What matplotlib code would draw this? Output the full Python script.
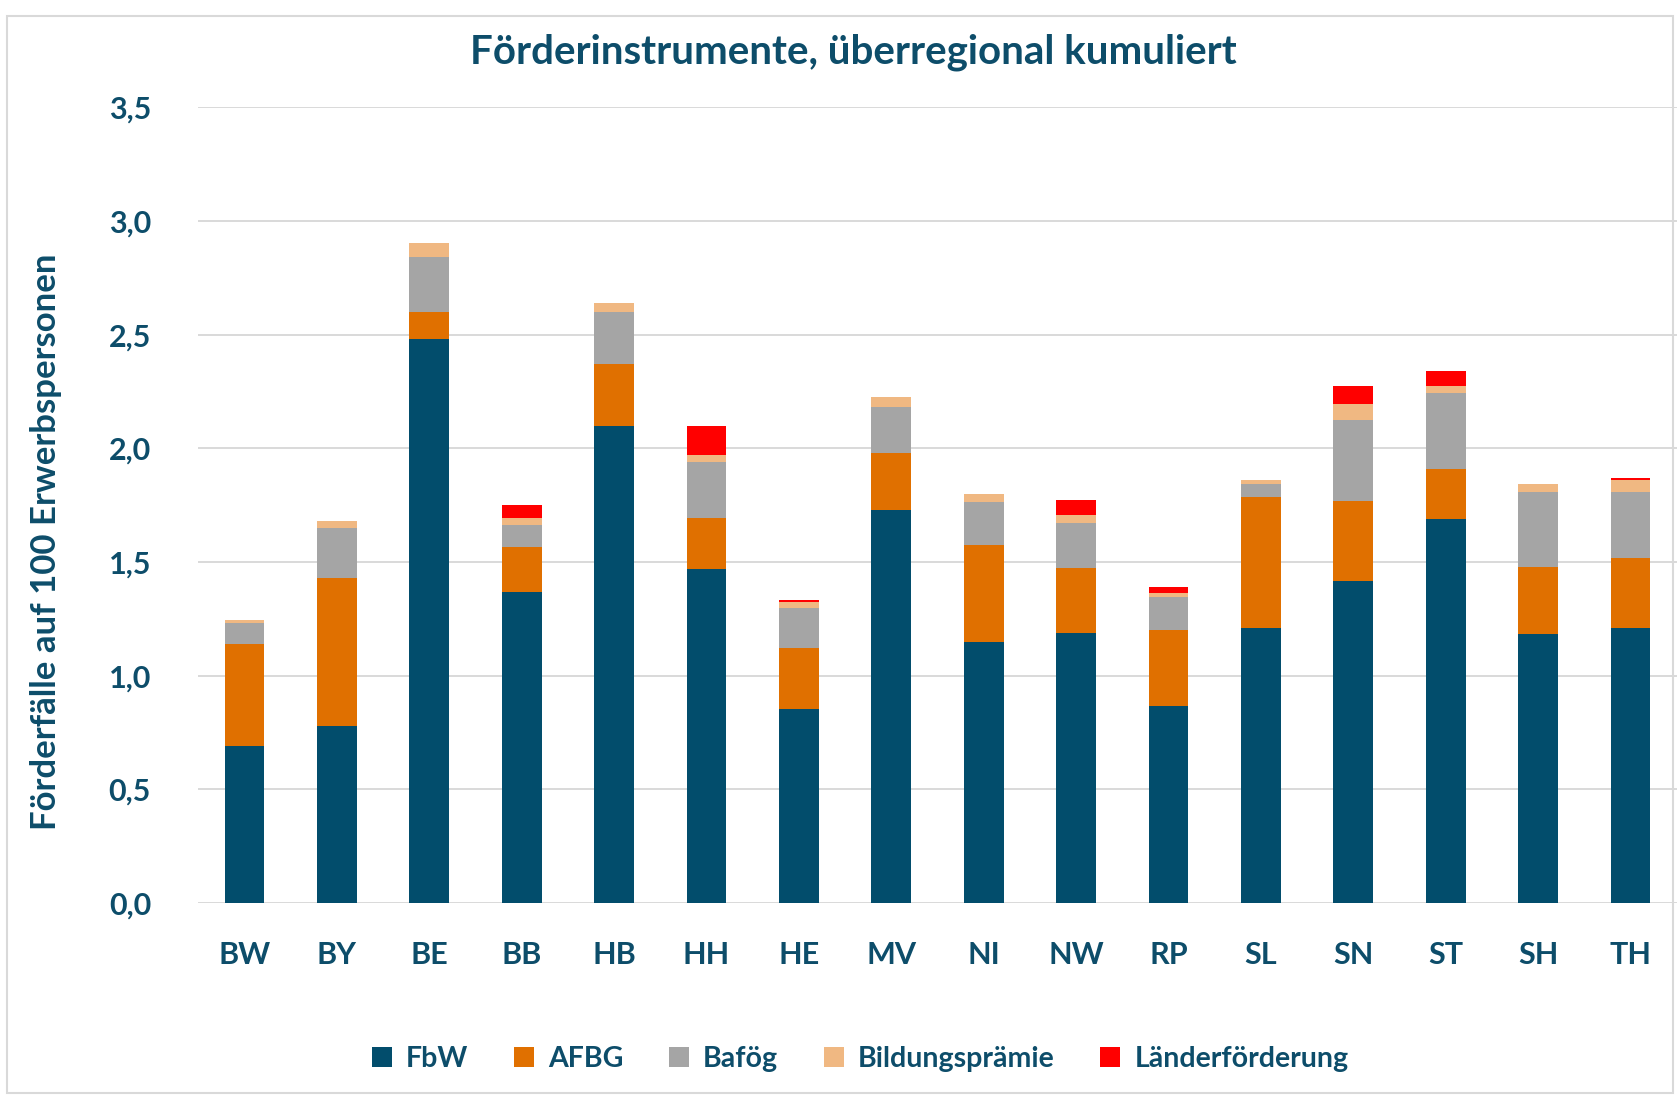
import matplotlib
matplotlib.use("Agg")
from matplotlib import pyplot as plt
from matplotlib.patches import Rectangle
import numpy as np

laender = ["BW", "BY", "BE", "BB", "HB", "HH", "HE", "MV", "NI", "NW", "RP", "SL", "SN", "ST", "SH", "TH"]

# Einzelwerte je Instrument (Förderfälle auf 100 Erwerbspersonen)
fbw = [0.69, 0.78, 2.48, 1.37, 2.10, 1.47, 0.855, 1.73, 1.15, 1.19, 0.865, 1.21, 1.415, 1.69, 1.185, 1.21]
afbg = [0.45, 0.65, 0.12, 0.195, 0.27, 0.225, 0.265, 0.25, 0.425, 0.285, 0.335, 0.575, 0.355, 0.22, 0.295, 0.31]
bafoeg = [0.09, 0.22, 0.24, 0.10, 0.23, 0.245, 0.18, 0.20, 0.19, 0.195, 0.145, 0.06, 0.355, 0.335, 0.33, 0.29]
bildungspraemie = [0.015, 0.03, 0.065, 0.03, 0.04, 0.03, 0.025, 0.045, 0.035, 0.035, 0.02, 0.015, 0.07, 0.03, 0.035, 0.05]
laenderfoerderung = [0.0, 0.0, 0.0, 0.055, 0.0, 0.13, 0.01, 0.0, 0.0, 0.07, 0.025, 0.0, 0.08, 0.065, 0.0, 0.01]

serien = [
    ("FbW", fbw, "#024d6c"),
    ("AFBG", afbg, "#e07000"),
    ("Bafög", bafoeg, "#a5a5a5"),
    ("Bildungsprämie", bildungspraemie, "#f0b882"),
    ("Länderförderung", laenderfoerderung, "#ff0000"),
]

textfarbe = "#0d4d6a"
plt.rcParams['font.family'] = ['Lato', 'DejaVu Sans']
plt.rcParams['font.weight'] = 'bold'

fig = plt.figure(figsize=(16.8, 10.96), dpi=100)
ax = fig.add_axes([0.118, 0.176, 0.880, 0.726])

x = np.arange(len(laender))
boden = np.zeros(len(laender))
for name, werte, farbe in serien:
    ax.bar(x, werte, width=0.43, bottom=boden, color=farbe, label=name, zorder=3)
    boden += np.array(werte)

ax.set_ylim(0, 3.5)
ax.set_xlim(-0.5, len(laender) - 0.5)
ax.set_yticks(np.arange(0, 3.51, 0.5))
ax.set_yticklabels([f"{v:.1f}".replace(".", ",") for v in np.arange(0, 3.51, 0.5)])
ax.set_xticks(x)
ax.set_xticklabels(laender)
ax.tick_params(axis='both', length=0, labelsize=22, labelcolor=textfarbe)
ax.tick_params(axis='y', pad=34)
ax.tick_params(axis='x', pad=27)
ax.grid(axis='y', color="#d9d9d9", linewidth=1.4, zorder=0)
for s in ax.spines.values():
    s.set_visible(False)

ax.set_ylabel("Förderfälle auf 100 Erwerbspersonen", fontsize=25, color=textfarbe, fontweight='bold')
ax.yaxis.set_label_coords(-0.092, 0.454)
fig.text(0.508, 0.952, "Förderinstrumente, überregional kumuliert", ha='center', va='center',
         fontsize=29, color=textfarbe, fontweight='bold')

leg = fig.legend(loc='center', bbox_to_anchor=(0.512, 0.034), ncol=5, frameon=False,
                 fontsize=20.5, handlelength=0.7, handleheight=0.7, columnspacing=1.6, handletextpad=0.5)
for t in leg.get_texts():
    t.set_color(textfarbe)

fig.patches.append(Rectangle((0.004, 0.003), 0.992, 0.982, transform=fig.transFigure,
                             fill=False, edgecolor="#d9d9d9", linewidth=1.5))

plt.savefig("out.png", dpi=100)
